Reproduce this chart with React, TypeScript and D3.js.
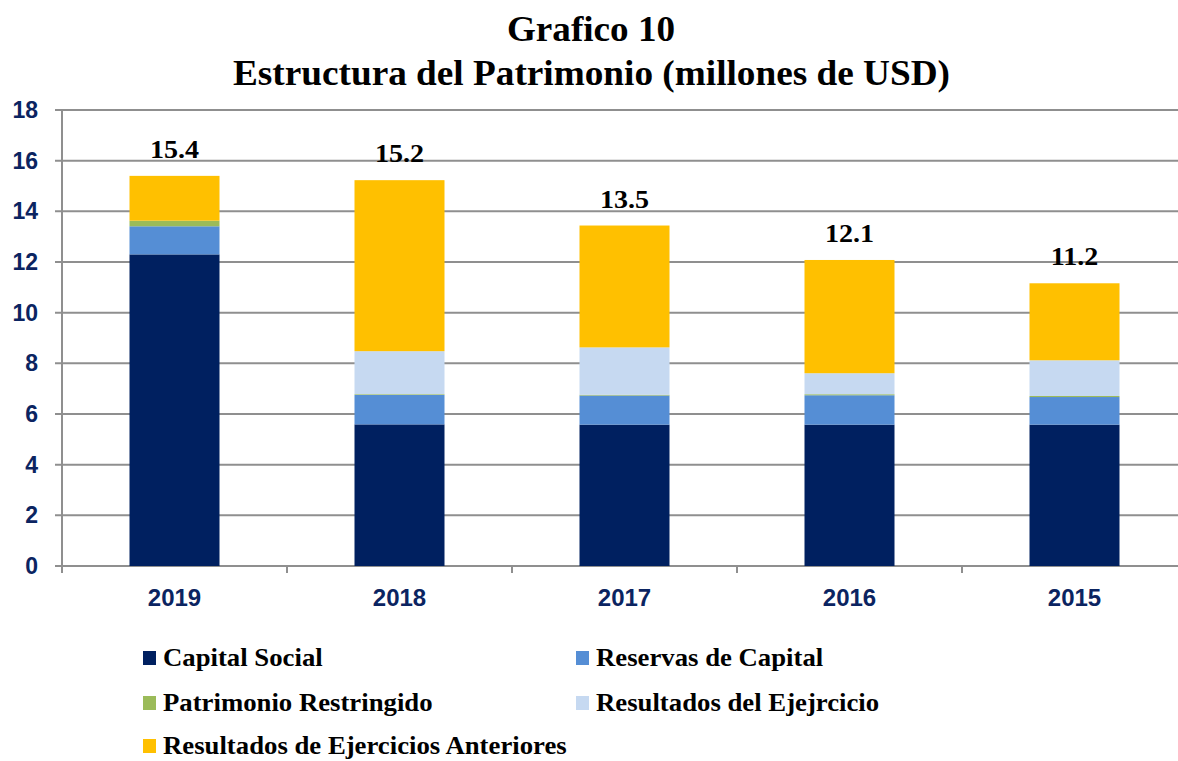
import * as d3 from "d3";

const years = ["2019", "2018", "2017", "2016", "2015"];
const capitalSocial = [12.3, 5.59, 5.58, 5.58, 5.58];
const reservasCapital = [1.11, 1.16, 1.15, 1.16, 1.09];
const patrimonioRestringido = [0.22, 0.03, 0.03, 0.04, 0.04];
const resultadosEjercicio = [0, 1.7, 1.87, 0.83, 1.41];
const resultadosAnteriores = [1.77, 6.75, 4.81, 4.47, 3.04];
const totalLabels = ["15.4", "15.2", "13.5", "12.1", "11.2"];
const yTicks = [0, 2, 4, 6, 8, 10, 12, 14, 16, 18];

const seriesNames = [
  "Capital Social",
  "Reservas de Capital",
  "Patrimonio Restringido",
  "Resultados del Ejejrcicio",
  "Resultados de Ejercicios Anteriores",
];
const seriesColors = ["#002060", "#558ED5", "#9BBB59", "#C6D9F1", "#FFC000"];

const W = 1178;
const H = 761;
const navy = "#0B2461";
const serif = "'Liberation Serif', 'Times New Roman', serif";
const sans = "'Liberation Sans', Arial, sans-serif";

export default function App() {
  const margin = { left: 62, top: 110, bottom: 566 };
  const x = d3
    .scaleBand()
    .domain(years)
    .range([margin.left, margin.left + 225 * years.length])
    .paddingInner(0.6)
    .paddingOuter(0.3);
  const y = d3.scaleLinear().domain([0, 18]).range([margin.bottom, margin.top]);

  const rows = years.map((yr, i) => ({
    year: yr,
    s0: capitalSocial[i],
    s1: reservasCapital[i],
    s2: patrimonioRestringido[i],
    s3: resultadosEjercicio[i],
    s4: resultadosAnteriores[i],
  }));
  const keys = ["s0", "s1", "s2", "s3", "s4"];
  const stacked = d3.stack<any>().keys(keys)(rows);

  const bandStep = x.step();
  const boundaries = d3.range(years.length + 1).map((i) => margin.left + i * bandStep);

  // legend is laid out in two columns, three rows
  const legendItems = [
    { i: 0, x: 143, y: 658 },
    { i: 1, x: 576, y: 658 },
    { i: 2, x: 143, y: 703 },
    { i: 3, x: 576, y: 703 },
    { i: 4, x: 143, y: 746 },
  ];

  return (
    <svg width={W} height={H} style={{ position: "absolute", left: 0, top: 0, background: "#fff" }}>
      {/* title */}
      <g fontFamily={serif} fontWeight="bold" fill="#000" textAnchor="middle">
        <text x={591} y={41} fontSize={36} textLength={168} lengthAdjust="spacingAndGlyphs">Grafico 10</text>
        <text x={591.5} y={85} fontSize={36} textLength={717} lengthAdjust="spacingAndGlyphs">
          Estructura del Patrimonio (millones de USD)
        </text>
      </g>

      {/* gridlines */}
      {yTicks.map((t) => (
        <line key={t} x1={55} x2={W} y1={y(t)} y2={y(t)} stroke="#8F8F8F" strokeWidth={2} />
      ))}
      <line x1={margin.left} x2={margin.left} y1={y(18)} y2={y(0) + 7} stroke="#8F8F8F" strokeWidth={2} />
      {boundaries.map((b, i) => (
        <line key={i} x1={b} x2={b} y1={y(0)} y2={y(0) + 7} stroke="#8F8F8F" strokeWidth={2} />
      ))}

      {/* y labels */}
      <g fontFamily={sans} fontWeight="bold" fontSize={23} fill={navy} textAnchor="end">
        {yTicks.map((t) => (
          <text key={t} x={38} y={y(t) + 8}>{t}</text>
        ))}
      </g>

      {/* bars */}
      {stacked.map((layer, li) => (
        <g key={layer.key} fill={seriesColors[li]}>
          {layer.map((d, j) => {
            const h = y(d[0]) - y(d[1]);
            if (h <= 0) return null;
            return (
              <rect key={j} x={x(years[j])} width={x.bandwidth()} y={y(d[1])} height={h} />
            );
          })}
        </g>
      ))}

      {/* total labels */}
      <g fontFamily={serif} fontWeight="bold" fontSize={26} fill="#000" textAnchor="middle">
        {rows.map((r, j) => {
          const total = r.s0 + r.s1 + r.s2 + r.s3 + r.s4;
          const cx = (x(r.year) as number) + x.bandwidth() / 2;
          return (
            <text key={j} transform={`translate(${cx},${y(total) - 18}) scale(1.08,1)`}>
              {totalLabels[j]}
            </text>
          );
        })}
      </g>

      {/* x labels */}
      <g fontFamily={sans} fontWeight="bold" fontSize={24} fill={navy} textAnchor="middle">
        {years.map((yr) => (
          <text key={yr} x={(x(yr) as number) + x.bandwidth() / 2} y={606}>{yr}</text>
        ))}
      </g>

      {/* legend */}
      <g fontFamily={serif} fontWeight="bold" fontSize={25} fill="#000">
        {legendItems.map((it) => (
          <g key={it.i}>
            <rect x={it.x} y={it.y - 7} width={13} height={14} fill={seriesColors[it.i]} />
            <text transform={`translate(${it.x + 20},${it.y + 8}) scale(1.07,1)`}>{seriesNames[it.i]}</text>
          </g>
        ))}
      </g>
    </svg>
  );
}
